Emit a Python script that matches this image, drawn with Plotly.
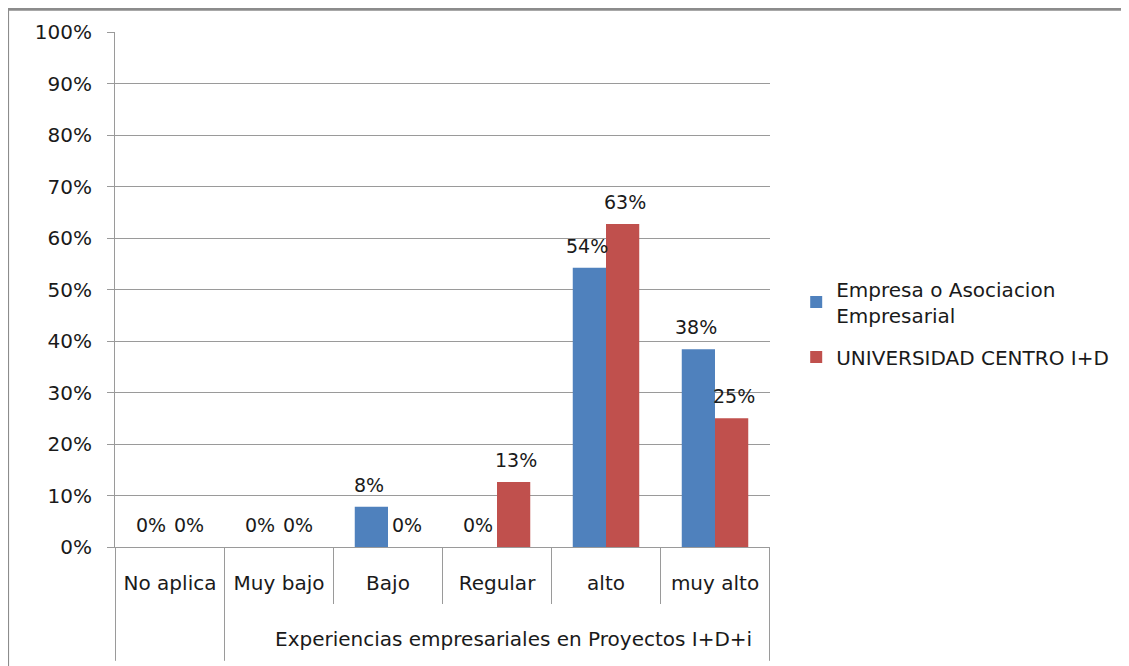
import plotly.graph_objects as go

tema = "Experiencias empresariales en Proyectos I+D+i"
categorias = ["No aplica", "Muy bajo", "Bajo", "Regular", "alto", "muy alto"]

empresa = [0.0, 0.0, 0.078, 0.0, 0.542, 0.384]
universidad = [0.0, 0.0, 0.0, 0.126, 0.627, 0.25]

nombres = ["Empresa o Asociacion<br>Empresarial", "UNIVERSIDAD CENTRO I+D"]
colores = ["#4F81BD", "#C0504D"]

FONT = "DejaVu Sans, sans-serif"
GRID = "#9a9a9a"
TXT = "#1a1a1a"
SIZE = 20
BARGAP = 0.39
ANCHO_CAT = 655 / len(categorias)
DESPLAZ = ANCHO_CAT * (1 - BARGAP) / 4  # centro de cada barra respecto a la categoria

fig = go.Figure()
for k, (serie, nombre, color) in enumerate(zip([empresa, universidad], nombres, colores)):
    fig.add_trace(go.Bar(
        x=categorias,
        y=serie,
        name=nombre,
        legendgroup=f"g{k}",
        marker_color=color,
        marker_line_width=0,
    ))

# etiquetas de datos encima de cada barra
for k, serie in enumerate([empresa, universidad]):
    for cat, v in zip(categorias, serie):
        fig.add_annotation(x=cat, y=v, xref="x", yref="y",
                           text=f"{v:.0%}", showarrow=False,
                           yanchor="bottom", yshift=9,
                           xshift=(2 * k - 1) * (DESPLAZ + 2),
                           font=dict(size=19, color=TXT))

# el navegador deja 8px de margen en el body
fig.update_layout(
    width=1129, height=666,
    margin=dict(l=107, r=367, t=24, b=127, autoexpand=False),
    plot_bgcolor="white", paper_bgcolor="white",
    font=dict(family=FONT, size=SIZE, color=TXT),
    barmode="group", bargap=BARGAP, bargroupgap=0,
    legend=dict(x=1.04, y=0.435, xanchor="left", yanchor="middle",
                font=dict(size=SIZE), tracegroupgap=13, itemwidth=30),
    showlegend=True,
)

fig.update_yaxes(
    range=[0, 1], dtick=0.1, tickformat=".0%",
    showgrid=True, gridcolor=GRID, gridwidth=1,
    showline=True, linecolor=GRID, linewidth=1,
    ticks="outside", ticklen=7, tickcolor=GRID,
    ticklabelstandoff=11,
    zeroline=False, tickfont=dict(size=SIZE),
)
fig.update_xaxes(
    type="category",
    showline=True, linecolor=GRID, linewidth=1,
    tickson="boundaries", ticks="outside", ticklen=56, tickcolor=GRID,
    ticklabelstandoff=18,
    tickfont=dict(size=SIZE),
)

# segundo nivel del eje de categorias
fig.add_annotation(x=3, y=-0.178, xref="x", yref="paper", text=tema,
                   showarrow=False, yanchor="middle", xshift=16,
                   font=dict(size=SIZE))
for borde in [-0.5, 0.5, 5.5]:
    fig.add_shape(type="line", xref="x", yref="paper",
                  x0=borde, x1=borde, y0=0, y1=-0.221,
                  line=dict(color=GRID, width=1))

# marco exterior del grafico (solo se ven los bordes superior e izquierdo)
fig.add_shape(type="rect", xref="paper", yref="paper",
              x0=-0.164, x1=1.7, y0=-0.6, y1=1.044,
              line=dict(color="#8c8c8c", width=3), layer="below")

fig.write_html("out.html")
